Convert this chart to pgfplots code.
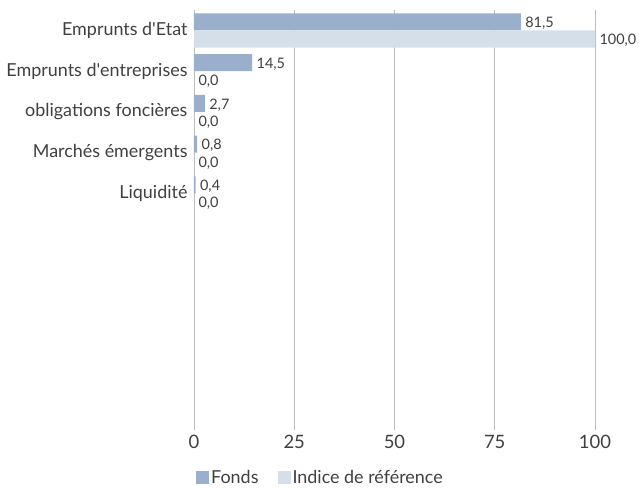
\documentclass[border=0pt]{standalone}
\usepackage{pgfplots}
\pgfplotsset{compat=1.18}
\usepackage{fontspec}
\setmainfont{Lato}
\definecolor{fonds}{HTML}{9AAFCB}
\definecolor{indice}{HTML}{D5DFEA}
\definecolor{txt}{HTML}{404040}
\definecolor{gridc}{HTML}{BDBDBD}

\begin{document}
\begin{tikzpicture}
\begin{axis}[
  scale only axis, width=401bp, height=420bp,
  xmin=0, xmax=100, ymin=-0.5, ymax=9.8, y dir=reverse,
  xtick={0,25,50,75,100}, ytick={0,1,2,3,4},
  yticklabels={Emprunts d\textquotesingle Etat, Emprunts d\textquotesingle entreprises, obligations foncières, Marchés émergents, Liquidité},
  axis line style={draw=none}, major tick length=0pt,
  xmajorgrids, grid style={gridc, line width=0.8bp},
  tick label style={font=\fontsize{18}{21}\selectfont, text=txt},
  xticklabel style={font=\fontsize{18.5}{21}\selectfont, yshift=-2bp},
  yticklabel style={xshift=-3bp},
  /pgf/number format/assume math mode=true,
  xbar, bar width=0.42, clip=false,
  nodes near coords={\pgfmathprintnumber[fixed, fixed zerofill, precision=1, use comma]{\pgfplotspointmeta}},
  every node near coord/.append style={font=\fontsize{14.5}{16}\selectfont, text=txt, anchor=west, xshift=1bp, yshift=-1.5bp},
  legend columns=2,
  legend image code/.code={\path[#1, draw=none] (0bp,-6.5bp) rectangle (13bp,6.5bp);},
  legend style={at={(0,0)}, anchor=north west, yshift=-36bp, xshift=-1bp, draw=none, fill=none,
    font=\fontsize{18}{21}\selectfont, text=txt,
    /tikz/every even column/.append style={column sep=17bp}},
]
\addplot[fill=fonds, draw=none, bar shift=-0.21] coordinates {(81.5,0) (14.5,1) (2.7,2) (0.8,3) (0.4,4)};
\addplot[fill=indice, draw=none, bar shift=0.21] coordinates {(100,0) (0,1) (0,2) (0,3) (0,4)};
\legend{Fonds, Indice de référence}
\coordinate (O) at (axis cs:0,9.8);
\end{axis}
\pgfresetboundingbox
\path (O) ++(-194bp,-58bp) rectangle ++(639bp,488bp);
\end{tikzpicture}
\end{document}
